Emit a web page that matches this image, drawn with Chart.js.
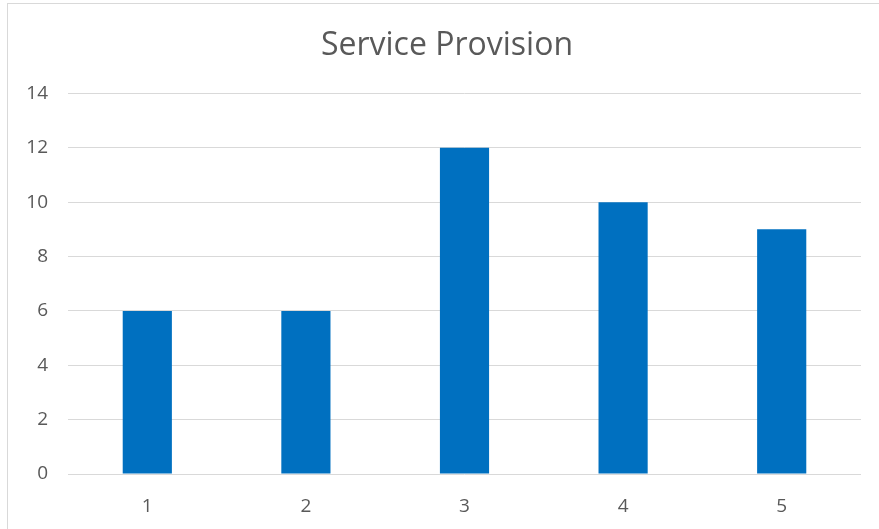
<!DOCTYPE html>
<html>
<head>
<meta charset="utf-8">
<script src="https://cdn.jsdelivr.net/npm/chart.js@4"></script>
<style>
  html, body { margin: 0; padding: 0; background: #fff; }
  #mycanvas { display: block; }
</style>
</head>
<body>
<canvas id="mycanvas" width="879" height="529"></canvas>
<script>
// data
var categories = ['1', '2', '3', '4', '5'];
var values = [6, 6, 12, 10, 9];
var yTicks = [0, 2, 4, 6, 8, 10, 12, 14];
var chartTitle = 'Service Provision';

var fontFamily = '"Open Sans", "Noto Sans", sans-serif';
var textColor = '#595959';
var gridColor = '#d9d9d9';

// thin frame round the whole chart (top and left edges show)
var framePlugin = {
	id: 'frame',
	beforeDraw: function(chart) {
		var ctx = chart.ctx;
		ctx.save();
		ctx.fillStyle = '#fff';
		ctx.fillRect(0, 0, chart.width, chart.height);
		ctx.strokeStyle = gridColor;
		ctx.lineWidth = 1;
		ctx.strokeRect(7.5, 3.5, chart.width + 10, chart.height + 10);
		ctx.restore();
	}
};

var chartdata = {
	labels: categories,
	datasets: [
		{
			label: chartTitle,
			backgroundColor: '#0070c0',
			borderWidth: 0,
			data: values,
			barPercentage: 0.31,
			categoryPercentage: 1
		}
	]
};

var ctx = document.getElementById('mycanvas');

var barGraph = new Chart(ctx, {
	type: 'bar',
	data: chartdata,
	plugins: [framePlugin],
	options: {
		responsive: false,
		animation: false,
		layout: { padding: { left: 15, right: 0, top: 0, bottom: 0 } },
		plugins: {
			legend: { display: false },
			tooltip: { enabled: false },
			title: {
				display: true,
				text: chartTitle,
				color: textColor,
				font: { family: fontFamily, size: 32, weight: 'normal' },
				padding: { top: 27, bottom: 28 }
			}
		},
		scales: {
			x: {
				grid: { display: false },
				border: { display: false },
				ticks: {
					color: textColor,
					font: { family: fontFamily, size: 19 },
					padding: 13
				},
				afterFit: function(scale) { scale.height = 55; }
			},
			y: {
				min: 0,
				max: 14,
				afterBuildTicks: function(scale) {
					scale.ticks = yTicks.map(function(v) { return { value: v }; });
				},
				grid: { color: gridColor, lineWidth: 1, drawTicks: false },
				border: { display: false },
				ticks: {
					color: textColor,
					font: { family: fontFamily, size: 19 },
					padding: 20
				},
				afterFit: function(scale) { scale.width = 53; }
			},
			// empty right-hand margin
			yRight: {
				position: 'right',
				grid: { display: false },
				border: { display: false },
				ticks: { display: false },
				afterFit: function(scale) { scale.width = 18; }
			}
		}
	}
});
</script>
</body>
</html>
